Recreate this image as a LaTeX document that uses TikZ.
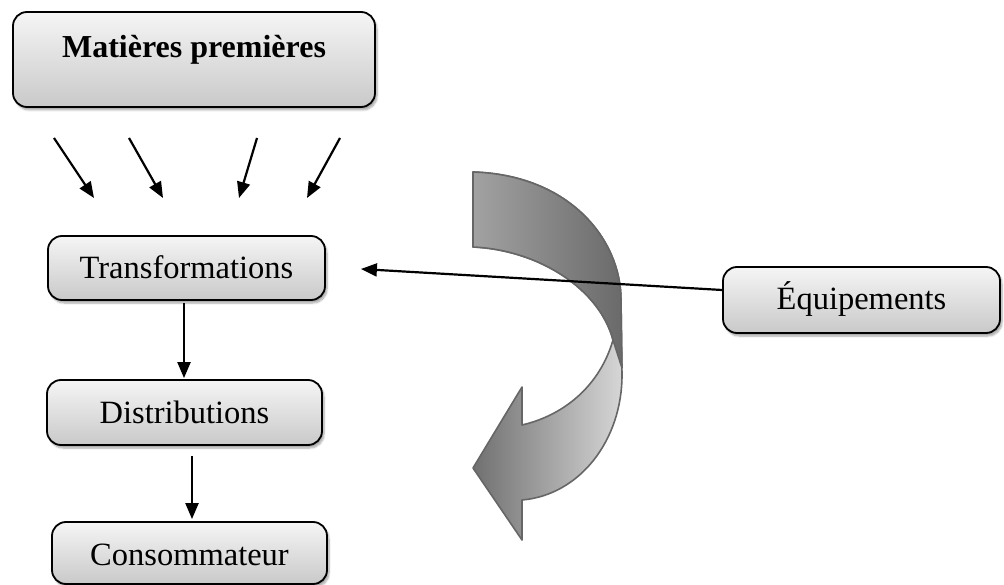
\documentclass[tikz,border=0pt]{standalone}
\usepackage{fontspec}
\setmainfont{Liberation Serif}
\usetikzlibrary{arrows.meta,shadows.blur}

\definecolor{boxtop}{HTML}{F5F5F5}
\definecolor{boxbot}{HTML}{C9C9C9}
\definecolor{ribedge}{HTML}{666666}
\definecolor{ribA}{HTML}{A2A2A2}
\definecolor{ribB}{HTML}{6A6A6A}
\definecolor{ribC}{HTML}{707070}
\definecolor{ribD}{HTML}{D6D6D6}

\tikzset{
  stage/.style={draw=black, line width=1.8pt, rounded corners=14pt,
    top color=boxtop, bottom color=boxbot,
    blur shadow={shadow xshift=2pt, shadow yshift=-3pt, shadow blur steps=6, shadow opacity=35},
    font=\fontsize{32.5}{38}\selectfont, text height=22pt, text depth=0pt,
    inner sep=0pt},
  arr/.style={line width=2.2pt, -{Triangle[length=16pt,width=13pt]}},
  ribbon/.style={draw=ribedge, line width=1.6pt, line join=round}
}

\begin{document}
\begin{tikzpicture}[x=1pt,y=-1pt]
\useasboundingbox (0,0) rectangle (1004,585);

% curved process arrow: lower (light) band with its head, then the upper band
\path[ribbon, left color=ribC, right color=ribD]
  (473,172) .. controls (570,175) and (621,240) .. (621,300)
  -- (622,375) .. controls (622,440) and (580,495) .. (522,500)
  -- (522,540) -- (473,468) -- (522,387) -- (522,425)
  .. controls (565,415) and (600,385) .. (613,340)
  .. controls (600,290) and (540,250) .. (473,247) -- cycle;
\path[ribbon, left color=ribA, right color=ribB]
  (473,172) .. controls (570,175) and (621,240) .. (621,300)
  -- (622,368) -- (613,340)
  .. controls (600,290) and (540,250) .. (473,247) -- cycle;

% stages of the chain
\node[stage, minimum width=362pt, minimum height=95pt, text height=24pt, text depth=27pt,
      font=\fontsize{32}{38}\selectfont\bfseries] (mp) at (194,59.5) {Matières premières};
\node[stage, minimum width=277pt, minimum height=64pt] (tr) at (186.5,268) {Transformations};
\node[stage, minimum width=275pt, minimum height=65pt] (di) at (184.5,412.5) {Distributions};
\node[stage, minimum width=275pt, minimum height=62pt, text height=25pt] (co) at (189.5,553) {Consommateur};
\node[stage, minimum width=277pt, minimum height=66pt, text height=20pt] (eq) at (861.5,300) {Équipements};

% raw material inputs
\coordinate (s1) at (54,138);  \coordinate (e1) at (94,198);
\coordinate (s2) at (129,138); \coordinate (e2) at (163,198);
\coordinate (s3) at (257,138); \coordinate (e3) at (239,198);
\coordinate (s4) at (340,138); \coordinate (e4) at (307,198);
\foreach \i in {1,2,3,4} \draw[arr] (s\i) -- (e\i);

% flow between stages
\draw[arr] ([xshift=-2.5pt,yshift=-2pt]tr.south) -- ([xshift=-0.5pt,yshift=1pt]di.north);
\draw[arr] ([xshift=7.5pt,yshift=-10pt]di.south) -- ([xshift=2.5pt,yshift=2pt]co.north);
\draw[arr] ([yshift=10pt]eq.west) -- ([xshift=35pt,yshift=-1pt]tr.east);
\end{tikzpicture}
\end{document}
